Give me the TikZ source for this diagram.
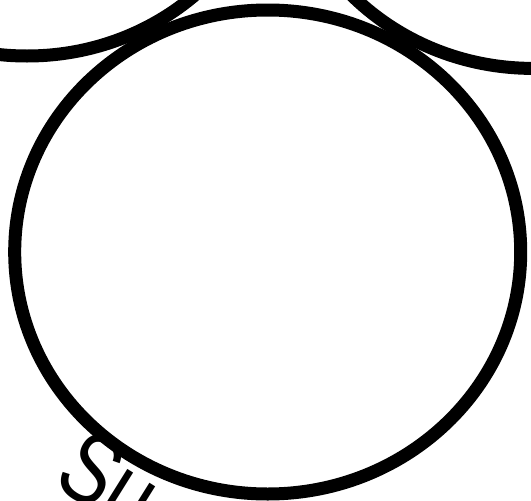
\documentclass[tikz,border=0pt]{standalone}
\usepackage{fontspec}
\newfontfamily\labelfont[FakeStretch=0.78]{Liberation Sans}
\usepackage{tikz}
\usetikzlibrary{calc}

\begin{document}
\begin{tikzpicture}[x=1pt, y=-1pt]
\def\RX{253pt}
\def\RY{242pt}
\useasboundingbox (0,0) rectangle (531,501);
\clip (0,0) rectangle (531,501);
\fill[white] (0,0) rectangle (531,501);
\draw[line width=13pt]
    (267.7,252) ellipse[x radius=\RX, y radius=\RY];
\draw[line width=13pt]
    (27,-186) ellipse[x radius=\RX, y radius=\RY];
\draw[line width=13pt]
    (533,-173.6) ellipse[x radius=\RX, y radius=\RY];
\node[anchor=base west, inner sep=0pt, rotate=-32, font=\labelfont\fontsize{100}{100}\selectfont]
    (label) at (51,484) {Su};
\end{tikzpicture}
\end{document}
